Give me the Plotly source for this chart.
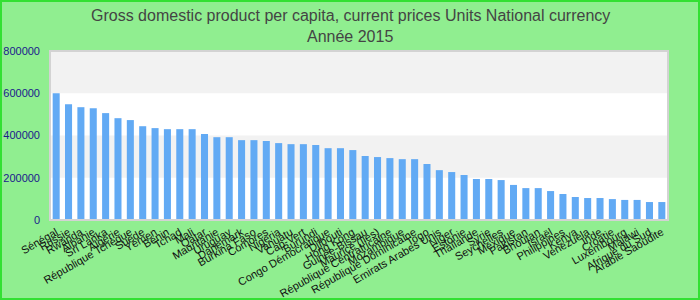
import plotly.graph_objects as go

countries = ["Sénégal", "Russie", "Rwanda", "Albanie", "Sri Lanka", "Algérie",
             "République Tchèque", "Suède", "Yémen", "Bénin", "Tchad", "Mali",
             "Qatar", "Mauritanie", "Uruguay", "Danemark", "Burkina Faso", "Comores",
             "Nigeria", "Vanuatu", "Cap-Vert", "Burundi", "Congo Démocratique",
             "Djibouti", "Hong Kong", "Guinée-Bissau", "Maurice (Iles)",
             "République Centrafricaine", "Mozambique", "République Dominicaine",
             "Togo", "Emirats Arabes Unis", "Niger", "Estonie", "Thaïlande", "Syrie",
             "Seychelles", "Mexique", "Pakistan", "Bhoutan", "Israël", "Philippines",
             "Kenya", "Venezuela", "Inde", "Croatie", "Luxembourg", "Malawi",
             "Afrique du Sud", "Arabie Saoudite"]
values = [600000, 548000, 534000, 529000, 506000, 482000, 473000, 444000, 435000,
          430000, 430000, 430000, 407000, 392000, 392000, 378000, 378000, 374000,
          364000, 359000, 359000, 355000, 340000, 340000, 331000, 303000, 298000,
          293000, 288000, 288000, 265000, 236000, 227000, 213000, 194000, 194000,
          189000, 166000, 151000, 151000, 137000, 123000, 109000, 104000, 104000,
          99000, 95000, 95000, 85000, 85000]
band_edges = [(200000, 400000), (600000, 800000)]
title_lines = ["Gross domestic product per capita, current prices Units National currency",
               "Année 2015"]

W, H = 700, 300
ml, mr, mt, mb = 50, 32, 51, 80
pw, ph = W - ml - mr, H - mt - mb

fig = go.Figure(go.Bar(x=countries, y=values, marker=dict(color="#62aaf4", line=dict(width=0)),
                       hoverinfo="x+y"))

shapes = []
for y0, y1 in band_edges:
    shapes.append(dict(type="rect", xref="paper", yref="y", x0=0, x1=1, y0=y0, y1=y1,
                       fillcolor="#f2f2f2", line=dict(width=0), layer="below"))
shapes.append(dict(type="rect", xref="paper", yref="paper", x0=0, x1=1, y0=0, y1=1,
                   line=dict(color="#d3d3d3", width=2), fillcolor="rgba(0,0,0,0)"))
shapes.append(dict(type="rect", xref="paper", yref="paper",
                   x0=-ml / pw + 1 / pw, x1=1 + (mr - 1) / pw,
                   y0=-mb / ph + 1 / ph, y1=1 + (mt - 1) / ph,
                   line=dict(color="#33e033", width=2), fillcolor="rgba(0,0,0,0)"))

annotations = []
for i, (txt, ypx) in enumerate(zip(title_lines, [15, 36])):
    annotations.append(dict(text=txt, xref="paper", yref="paper",
                            x=(W / 2 - ml) / pw, y=1 + (mt - ypx) / ph,
                            xanchor="center", yanchor="middle", showarrow=False,
                            font=dict(size=16, color="#444444")))

fig.update_layout(
    width=W, height=H,
    margin=dict(l=ml, r=mr, t=mt, b=mb, pad=0),
    paper_bgcolor="#90ee90",
    plot_bgcolor="white",
    font=dict(family="Liberation Sans, Arial, sans-serif"),
    annotations=annotations,
    bargap=0.43,
    showlegend=False,
    shapes=shapes,
    xaxis=dict(type="category", tickmode="linear", dtick=1, tickangle=-30,
               tickfont=dict(size=11, color="#111111"), showgrid=False, showline=False,
               zeroline=False, ticks="", ticklabelstandoff=3, automargin=False),
    yaxis=dict(range=[0, 800000], tickvals=[0, 200000, 400000, 600000, 800000],
               tickformat="d", tickfont=dict(size=11, color="#1a1a8c"),
               showgrid=False, zeroline=False, showline=False, ticks="",
               ticklabelstandoff=9, automargin=False),
)

fig.write_html("out.html")
